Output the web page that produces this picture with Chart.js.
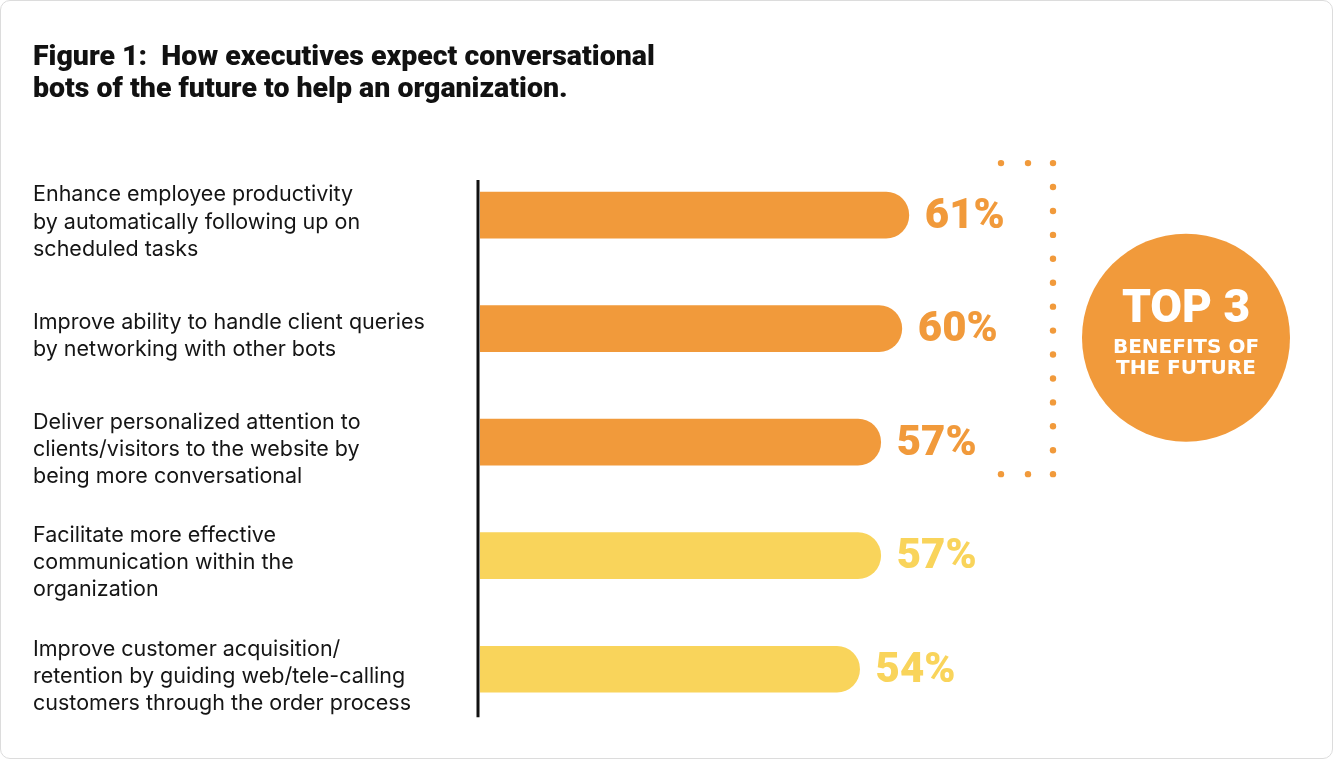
<!DOCTYPE html>
<html>
<head>
<meta charset="utf-8">
<script src="https://cdn.jsdelivr.net/npm/chart.js@4.4.1/dist/chart.umd.min.js"></script>
<style>
  html, body { margin: 0; padding: 0; background: #fff; }
  #wrap { width: 1333px; height: 759px; box-sizing: border-box; border: 1px solid #dcdcdc; border-radius: 10px; overflow: hidden; }
</style>
</head>
<body>
<div id="wrap"><canvas id="chartBots" width="1331" height="757"></canvas></div>
<script>
const categorias = [
  ['Enhance employee productivity', 'by automatically following up on', 'scheduled tasks'],
  ['Improve ability to handle client queries', 'by networking with other bots'],
  ['Deliver personalized attention to', 'clients/visitors to the website by', 'being more conversational'],
  ['Facilitate more effective', 'communication within the', 'organization'],
  ['Improve customer acquisition/', 'retention by guiding web/tele-calling', 'customers through the order process']
];
const valores = [61, 60, 57, 57, 54];
const etiquetas = ['61%', '60%', '57%', '57%', '54%'];
const colores = ['#F19A3B', '#F19A3B', '#F19A3B', '#F9D45B', '#F9D45B'];
const titulo = ['Figure 1:  How executives expect conversational', 'bots of the future to help an organization.'];
const textoCirculo = ['TOP 3', 'BENEFITS OF', 'THE FUTURE'];

const naranja = '#F19A3B';

// porcentajes al final de cada barra
const etiquetasPlugin = {
  id: 'etiquetas',
  afterDatasetsDraw(chart) {
    const ctx = chart.ctx;
    const meta = chart.getDatasetMeta(0);
    ctx.save();
    ctx.font = '900 42px Roboto';
    ctx.textAlign = 'left';
    ctx.textBaseline = 'middle';
    meta.data.forEach((bar, i) => {
      ctx.fillStyle = colores[i];
      ctx.fillText(etiquetas[i], bar.x + 16, bar.y + 2);
    });
    ctx.restore();
  }
};

// linea negra del eje
const ejePlugin = {
  id: 'eje',
  beforeDatasetsDraw(chart) {
    const ctx = chart.ctx;
    const y = chart.scales.y;
    const x = chart.scales.x.left - 2;
    ctx.save();
    ctx.strokeStyle = '#111';
    ctx.lineWidth = 3;
    ctx.beginPath();
    ctx.moveTo(x, y.getPixelForValue(0) - 35);
    ctx.lineTo(x, y.getPixelForValue(categorias.length - 1) + 48);
    ctx.stroke();
    ctx.restore();
  }
};

// corchete punteado y circulo "top 3"
const top3Plugin = {
  id: 'top3',
  afterDraw(chart) {
    const ctx = chart.ctx;
    const y = chart.scales.y;
    const arriba = y.getPixelForValue(0) - 52;
    const abajo = y.getPixelForValue(2) + 32;
    const xs = [1000, 1027, 1052];
    ctx.save();
    ctx.fillStyle = naranja;
    const punto = (px, py) => { ctx.beginPath(); ctx.arc(px, py, 3.2, 0, Math.PI * 2); ctx.fill(); };
    xs.forEach(px => { punto(px, arriba); punto(px, abajo); });
    const n = 13;
    for (let i = 1; i < n; i++) punto(xs[2], arriba + (abajo - arriba) * i / n);

    const cx = 1185, cy = (arriba + abajo) / 2 + 19, r = 104;
    ctx.beginPath();
    ctx.arc(cx, cy, r, 0, Math.PI * 2);
    ctx.fill();
    ctx.fillStyle = '#fff';
    ctx.textAlign = 'center';
    ctx.textBaseline = 'middle';
    ctx.font = '900 46px Roboto';
    ctx.fillText(textoCirculo[0], cx, cy - 27);
    ctx.font = 'bold 20px "DejaVu Sans"';
    ctx.fillText(textoCirculo[1], cx, cy + 10);
    ctx.fillText(textoCirculo[2], cx, cy + 31);
    ctx.restore();
  }
};

new Chart(document.getElementById('chartBots'), {
  type: 'bar',
  data: {
    labels: categorias,
    datasets: [{
      data: valores,
      backgroundColor: colores,
      borderWidth: 0,
      barThickness: 46,
      borderRadius: 23,
      borderSkipped: 'start'
    }]
  },
  options: {
    indexAxis: 'y',
    responsive: false,
    animation: false,
    layout: { padding: { left: 32, right: 149, top: 0, bottom: 32 } },
    scales: {
      x: { display: false, min: 0, max: 100 },
      y: {
        grid: { display: false },
        border: { display: false },
        ticks: {
          crossAlign: 'far',
          color: '#151515',
          padding: 0,
          labelOffset: 7,
          font: { family: 'Inter', size: 21.5, lineHeight: 1.26 }
        },
        afterFit(scale) {
          scale.width = 447;
          scale.paddingTop = 0;
          scale.paddingBottom = 0;
        }
      }
    },
    plugins: {
      legend: { display: false },
      tooltip: { enabled: false },
      title: {
        display: true,
        text: titulo,
        align: 'start',
        color: '#111',
        font: { family: 'Roboto', size: 28.5, weight: '900', lineHeight: 1.12 },
        padding: { top: 41, bottom: 52.5 }
      }
    }
  },
  plugins: [ejePlugin, etiquetasPlugin, top3Plugin]
});
</script>
</body>
</html>
